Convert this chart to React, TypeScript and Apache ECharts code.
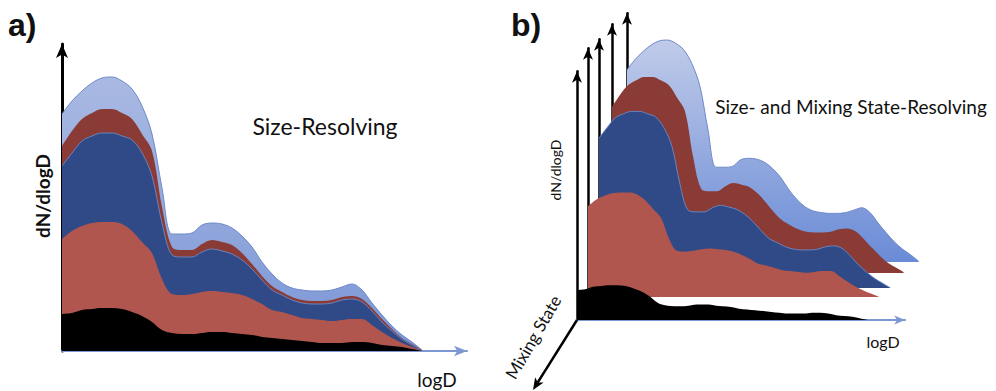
import React, { useEffect, useRef } from "react";
import * as echarts from "echarts";

// ---- data (arbitrary units) ----
const logD = [0, 1, 2, 3, 4, 5, 6, 7, 8, 9, 10, 11, 12, 13, 14, 15, 16, 17, 18, 19, 20, 21, 22, 23, 24, 25, 26, 27, 28, 29, 30, 31, 32, 33, 34, 35, 36];
const lightBlue = [237, 250, 260, 268, 273, 274, 270, 262, 245, 217, 163, 117, 117, 118, 126, 128, 127, 123, 115, 104, 89, 77, 68, 63, 61, 60, 60, 61, 64, 67, 61, 48, 36, 25, 16, 9, 1];
const darkRed = [205, 220, 232, 238, 242, 242, 238, 232, 217, 200, 144, 104, 101, 101, 107, 111, 109, 106, 98, 87, 75, 65, 59, 54, 51, 50, 50, 51, 54, 55, 52, 43, 32, 22, 13, 7, 1];
const darkBlue = [185, 198, 210, 215, 218, 218, 215, 211, 198, 175, 128, 96, 94, 94, 99, 102, 100, 97, 91, 82, 71, 61, 56, 51, 48, 47, 47, 48, 51, 52, 49, 40, 29, 20, 12, 6, 0];
const salmon = [112, 120, 125, 128, 129, 129, 127, 120, 109, 98, 72, 57, 56, 57, 59, 60, 59, 58, 56, 52, 47, 41, 39, 36, 33, 32, 31, 30, 31, 32, 32, 26, 19, 13, 8, 4, 0];
const black = [37, 38, 41, 42, 43, 43, 42, 39, 35, 29, 21, 18, 17, 17, 18, 19, 19, 18, 17, 16, 14, 13, 12, 11, 10, 9, 8, 8, 8, 9, 9, 8, 6, 5, 4, 2, 0];

const X_MAX = 40.5;
const Y_MAX = 307;

// ---- layout / styles ----
const PX_PER_X = 10;
const A_ORIGIN = [62, 351];
const B_SCALE = 0.81;
// back -> front
const B_ORIGINS = [
  [627, 262],
  [612, 273],
  [599, 288],
  [588, 297],
  [577, 320],
];

const grad = (a: string, b: string) =>
  new echarts.graphic.LinearGradient(0, 0, 0, 1, [
    { offset: 0, color: a },
    { offset: 1, color: b },
  ]);

const layers = [
  { name: "lightBlue", values: lightBlue, fillA: () => grad("#a9b9e2", "#7b96d6"), fillB: () => grad("#c0cbe9", "#6a8bd6"), line: "#6d88c9", lw: 1 },
  { name: "darkRed", values: darkRed, fillA: () => "#8b3b35", fillB: () => "#8b3b35", line: "#8b3b35", lw: 0 },
  { name: "darkBlue", values: darkBlue, fillA: () => "#2f4a86", fillB: () => "#2f4a86", line: "#6b83bf", lw: 1 },
  { name: "salmon", values: salmon, fillA: () => "#b0564f", fillB: () => "#b0564f", line: "#b0564f", lw: 0 },
  { name: "black", values: black, fillA: () => "#000000", fillB: () => "#000000", line: "#000000", lw: 0 },
];

const FONT = 'Lato, "Open Sans", sans-serif';

export default function App() {
  const ref = useRef<HTMLDivElement>(null);
  useEffect(() => {
    document.body.style.margin = "0";
    const chart = echarts.init(ref.current!, undefined, { renderer: "svg" });

    const grids: any[] = [];
    const xAxes: any[] = [];
    const yAxes: any[] = [];
    const series: any[] = [];

    const addGrid = (ox: number, oy: number, s: number, showX: boolean, yWidth: number, z: number, xColor: string) => {
      const w = X_MAX * PX_PER_X * s;
      const h = Y_MAX * s;
      grids.push({ left: ox, top: oy - h, width: w, height: h, containLabel: false });
      const gi = grids.length - 1;
      xAxes.push({
        gridIndex: gi, type: "value", min: 0, max: X_MAX, show: showX, z,
        axisLine: { show: true, onZero: false, lineStyle: { color: xColor, width: 2 }, symbol: ["none", "arrow"], symbolSize: [7 * s + 1, 12 * s + 1] },
        axisTick: { show: false }, axisLabel: { show: false }, splitLine: { show: false },
      });
      yAxes.push({
        gridIndex: gi, type: "value", min: 0, max: Y_MAX, z,
        axisLine: { show: true, onZero: false, lineStyle: { color: "#000", width: yWidth }, symbol: ["none", "arrow"], symbolSize: [8 * s + 1, 14 * s] },
        axisTick: { show: false }, axisLabel: { show: false }, splitLine: { show: false },
      });
      return gi;
    };

    // panel a
    const ga = addGrid(A_ORIGIN[0], A_ORIGIN[1], 1, true, 3, 0, "#7d97d2");
    layers.forEach((L, k) => {
      series.push({
        type: "line", xAxisIndex: ga, yAxisIndex: ga, z: 2 + k,
        data: logD.map((x, i) => [x, L.values[i]]),
        smooth: 0.35, showSymbol: false, silent: true,
        lineStyle: { color: L.line, width: L.lw },
        areaStyle: { color: L.fillA(), opacity: 1 },
      });
    });

    // panel b
    layers.forEach((L, k) => {
      const [ox, oy] = B_ORIGINS[k];
      const zAxis = 10 + 2 * k;
      const g = addGrid(ox, oy, B_SCALE, k === layers.length - 1, 2.5, zAxis, "#7d97d2");
      series.push({
        type: "line", xAxisIndex: g, yAxisIndex: g, z: zAxis + 1,
        data: logD.map((x, i) => [x, L.values[i]]),
        smooth: 0.35, showSymbol: false, silent: true,
        lineStyle: { color: L.line, width: L.lw },
        areaStyle: { color: L.fillB(), opacity: 1 },
      });
    });

    // mixing-state axis arrow
    const m0 = [B_ORIGINS[4][0], B_ORIGINS[4][1]];
    const tip = [533, 390];
    const dx = tip[0] - m0[0], dy = tip[1] - m0[1];
    const len = Math.hypot(dx, dy);
    const ux = dx / len, uy = dy / len;
    const nx = -uy, ny = ux;
    const bx = tip[0] - 12 * ux, by = tip[1] - 12 * uy;
    const notchX = tip[0] - 9 * ux, notchY = tip[1] - 9 * uy;

    const text = (t: string, x: number, y: number, size: number, opts: any = {}) => ({
      type: "text", x, y, rotation: opts.rotation || 0, z: 100, silent: true,
      style: {
        text: t, x: 0, y: 0, fill: "#111", font: `${opts.weight || "normal"} ${size}px ${opts.family || FONT}`,
        textAlign: opts.align || "center", textVerticalAlign: "middle",
      },
    });

    chart.setOption({
      animation: false,
      grid: grids,
      xAxis: xAxes,
      yAxis: yAxes,
      series,
      graphic: [
        { type: "line", z: 30, silent: true, shape: { x1: m0[0], y1: m0[1], x2: notchX, y2: notchY }, style: { stroke: "#000", lineWidth: 2.5 } },
        {
          type: "polygon", z: 30, silent: true,
          shape: { points: [[tip[0], tip[1]], [bx + 5 * nx, by + 5 * ny], [notchX, notchY], [bx - 5 * nx, by - 5 * ny]] },
          style: { fill: "#000" },
        },
        text("a)", 8, 25, 32, { weight: "bold", align: "left", family: '"Liberation Sans", Arial, sans-serif' }),
        text("b)", 511, 25, 32, { weight: "bold", align: "left", family: '"Liberation Sans", Arial, sans-serif' }),
        text("Size-Resolving", 325, 126, 23),
        text("Size- and Mixing State-Resolving", 851, 106, 19),
        text("dN/dlogD", 42, 196, 19, { rotation: Math.PI / 2, weight: "bold" }),
        text("dN/dlogD", 555, 170, 14, { rotation: Math.PI / 2 }),
        text("logD", 437, 379, 19),
        text("logD", 883, 341, 16),
        text("Mixing State", 533, 337, 17, { rotation: (60 * Math.PI) / 180 }),
      ],
    });
    return () => chart.dispose();
  }, []);
  return <div ref={ref} style={{ width: 996, height: 391 }} />;
}
